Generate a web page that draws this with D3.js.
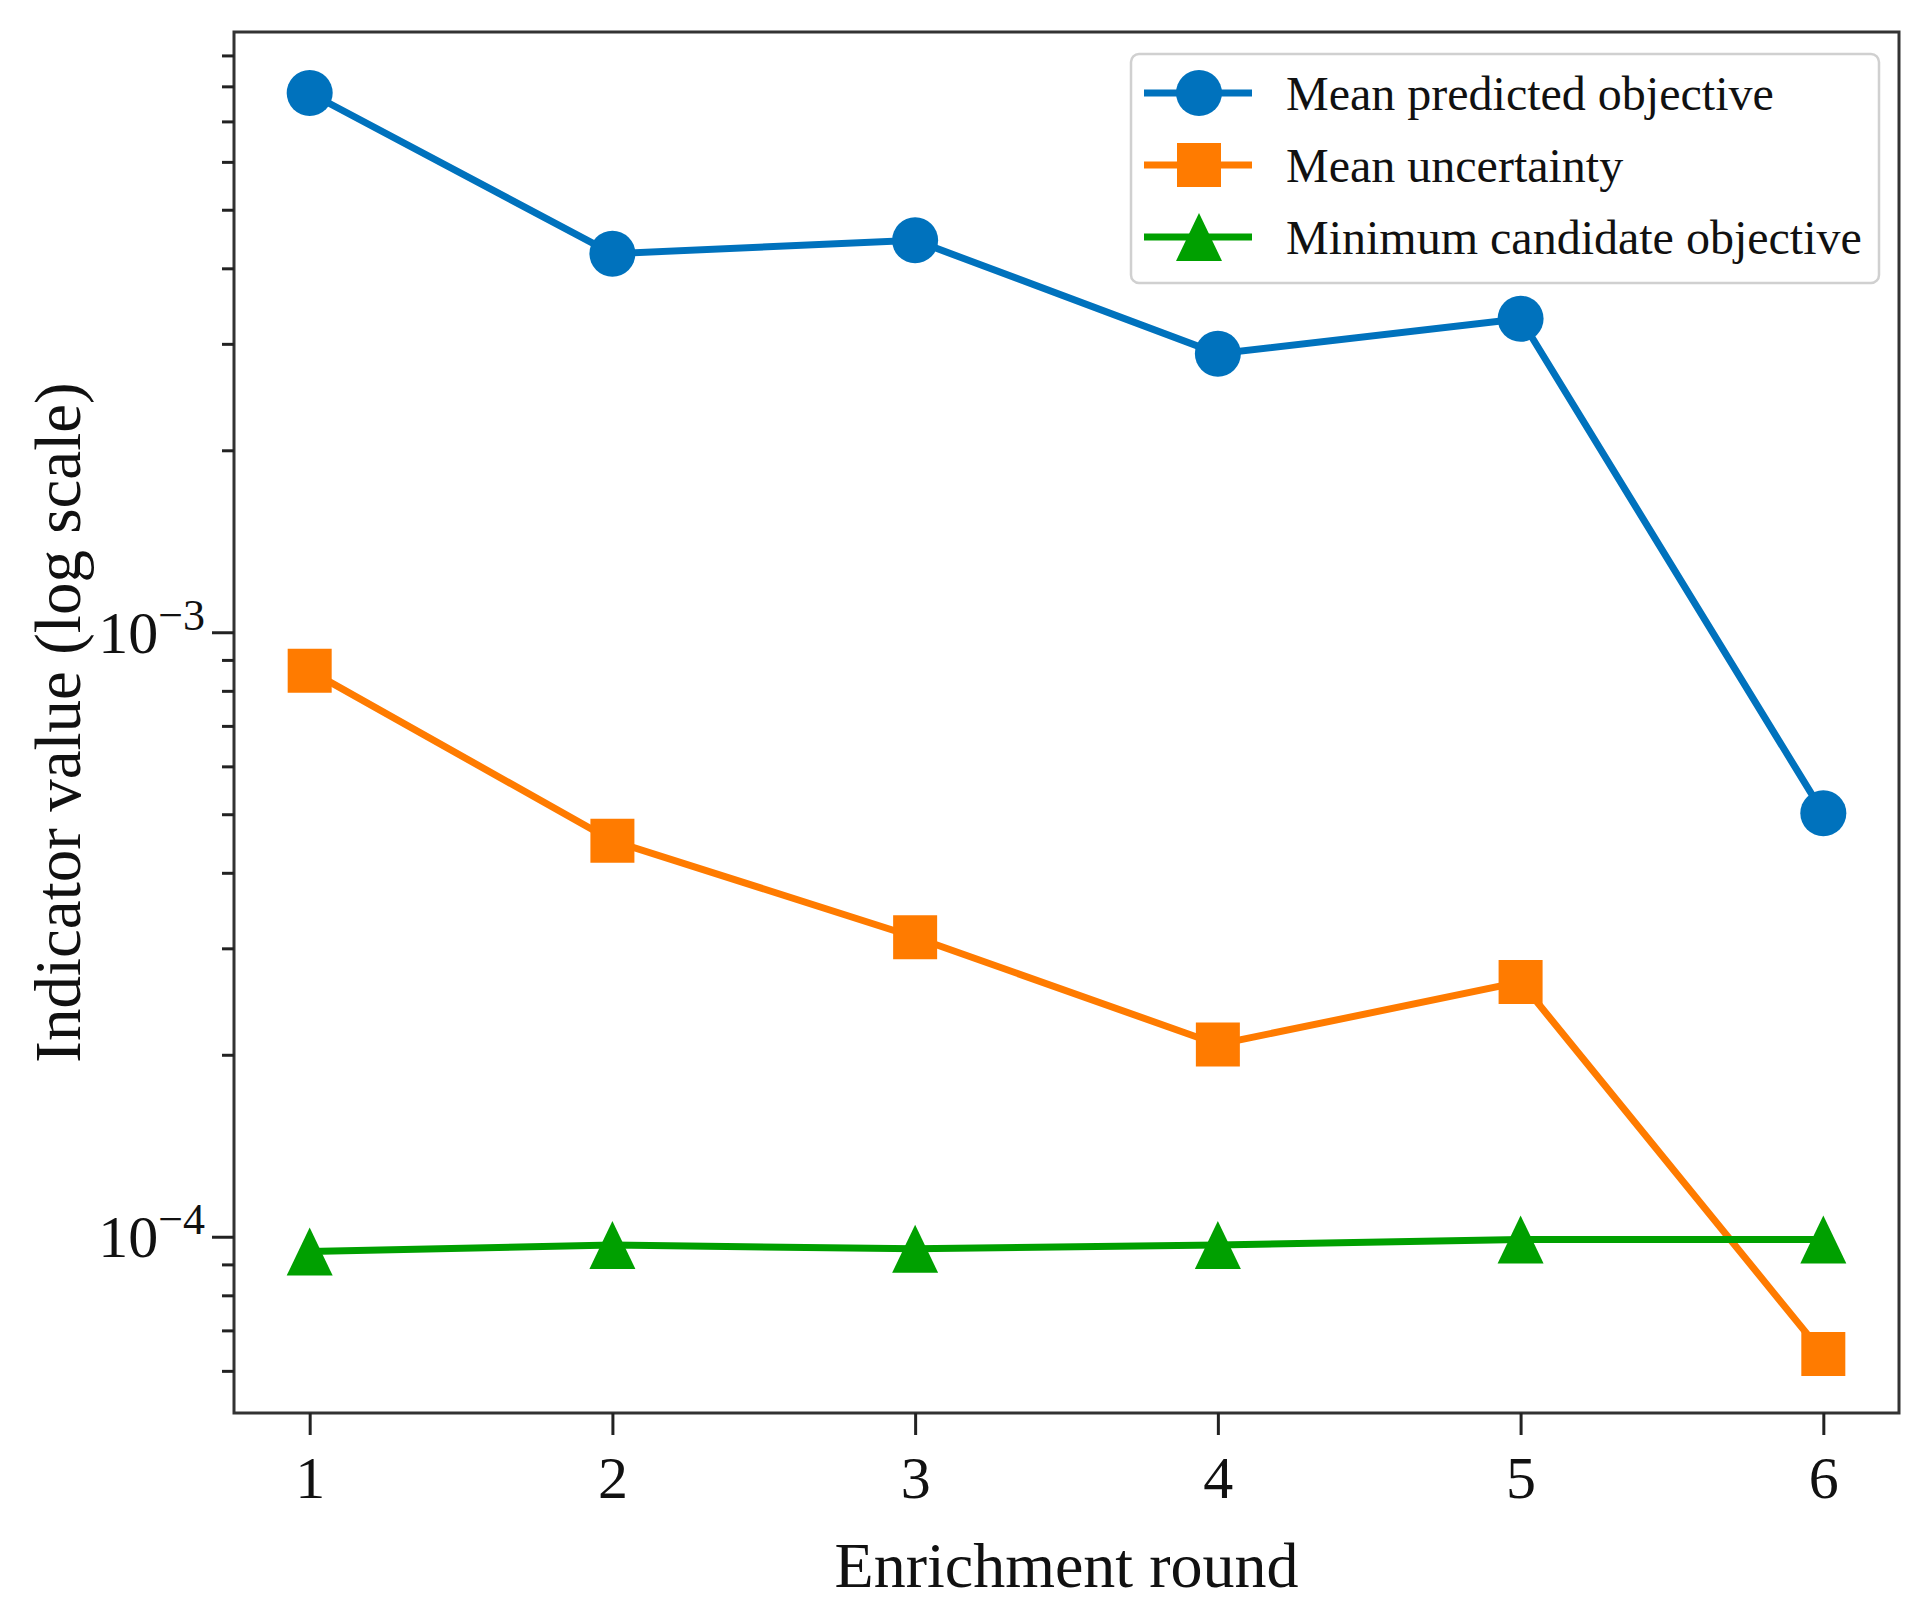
<!DOCTYPE html>
<html lang="en">
<head>
<meta charset="UTF-8">
<title>Enrichment indicators</title>
<style>
    body { margin: 0; padding: 0; background: #ffffff; }
    svg { display: block; }
    text { font-family: 'Liberation Serif', 'Times New Roman', serif; fill: #111; }
</style>
</head>
<body>
<div id="chart"></div>
<script src="https://d3js.org/d3.v7.min.js"></script>
<script>
    // data
    const rounds = [1, 2, 3, 4, 5, 6];
    const meanPredicted = [7.8e-3, 4.23e-3, 4.45e-3, 2.89e-3, 3.30e-3, 5.02e-4];
    const meanUncertainty = [8.64e-4, 4.52e-4, 3.13e-4, 2.08e-4, 2.64e-4, 6.4e-5];
    const minCandidate = [9.45e-5, 9.69e-5, 9.55e-5, 9.69e-5, 9.9e-5, 9.9e-5];
    const seriesNames = ['Mean predicted objective', 'Mean uncertainty', 'Minimum candidate objective'];
    const majorTicks = [1e-4, 1e-3];
    const majorExp = ['\u22124', '\u22123'];

    const width = 1924, height = 1608;
    const margin = { top: 32, right: 25, bottom: 195, left: 234 };
    const innerW = width - margin.left - margin.right;
    const innerH = height - margin.top - margin.bottom;

    const svg = d3.select('#chart').append('svg')
        .attr('width', width)
        .attr('height', height);

    const g = svg.append('g')
        .attr('transform', `translate(${margin.left},${margin.top})`);

    const x = d3.scaleLinear().domain([0.75, 6.25]).range([0, innerW]);
    const y = d3.scaleLog().domain([5.11e-5, 9.84e-3]).range([innerH, 0]);

    const series = [
        { name: seriesNames[0], values: meanPredicted, color: '#0072BD', shape: d3.symbolCircle },
        { name: seriesNames[1], values: meanUncertainty, color: '#FF7B00', shape: d3.symbolSquare },
        { name: seriesNames[2], values: minCandidate, color: '#00A000', shape: d3.symbolTriangle }
    ];

    // marker paths sized to match the figure (~45px across)
    function markerPath(shape) {
        if (shape === d3.symbolCircle) return d3.symbol(shape, Math.PI * 23 * 23)();
        if (shape === d3.symbolSquare) return d3.symbol(shape, 44 * 44)();
        // upright triangle centred on its box, like matplotlib '^'
        return 'M0,-24L23,24L-23,24Z';
    }

    const line = d3.line()
        .x((d, i) => x(rounds[i]))
        .y(d => y(d));

    series.forEach(s => {
        g.append('path')
            .datum(s.values)
            .attr('fill', 'none')
            .attr('stroke', s.color)
            .attr('stroke-width', 7)
            .attr('d', line);
    });

    series.forEach(s => {
        g.selectAll(null)
            .data(s.values)
            .enter().append('path')
            .attr('transform', (d, i) => `translate(${x(rounds[i])},${y(d)})`)
            .attr('d', markerPath(s.shape))
            .attr('fill', s.color);
    });

    // frame
    g.append('rect')
        .attr('width', innerW)
        .attr('height', innerH)
        .attr('fill', 'none')
        .attr('stroke', '#333')
        .attr('stroke-width', 3);

    // x axis
    const xAxis = g.append('g')
        .attr('transform', `translate(0,${innerH})`)
        .call(d3.axisBottom(x).tickValues(rounds).tickFormat(d3.format('d')).tickSize(22).tickPadding(20));
    xAxis.select('.domain').remove();
    xAxis.selectAll('line').attr('stroke', '#222').attr('stroke-width', 3);
    xAxis.selectAll('text')
        .style('font-family', "'Liberation Serif', serif")
        .style('font-size', '60px')
        .attr('fill', '#111');

    // y axis: minor ticks
    const minorTicks = y.ticks().filter(v => !majorTicks.includes(v));
    const yMinor = g.append('g')
        .call(d3.axisLeft(y).tickValues(minorTicks).tickFormat('').tickSize(12));
    yMinor.select('.domain').remove();
    yMinor.selectAll('line').attr('stroke', '#222').attr('stroke-width', 3);

    // y axis: major ticks with 10^n labels
    const yMajor = g.append('g')
        .call(d3.axisLeft(y).tickValues(majorTicks).tickFormat('').tickSize(22));
    yMajor.select('.domain').remove();
    yMajor.selectAll('line').attr('stroke', '#222').attr('stroke-width', 3);
    yMajor.selectAll('.tick').each(function (d, i) {
        const t = d3.select(this).append('text')
            .attr('x', -29)
            .attr('y', 20)
            .attr('text-anchor', 'end')
            .style('font-size', '60px')
            .attr('fill', '#111');
        t.append('tspan').text('10');
        t.append('tspan').attr('dy', -23).style('font-size', '44px').text(majorExp[i]);
    });

    // axis titles
    svg.append('text')
        .attr('x', margin.left + innerW / 2)
        .attr('y', 1587)
        .attr('text-anchor', 'middle')
        .style('font-size', '64px')
        .text('Enrichment round');

    svg.append('text')
        .attr('transform', `translate(80,${margin.top + innerH / 2}) rotate(-90)`)
        .attr('text-anchor', 'middle')
        .style('font-size', '65px')
        .text('Indicator value (log scale)');

    // legend
    const legend = svg.append('g').attr('transform', 'translate(1131,54)');
    legend.append('rect')
        .attr('width', 748)
        .attr('height', 229)
        .attr('rx', 8)
        .attr('fill', 'rgba(255,255,255,0.8)')
        .attr('stroke', '#d0d0d0')
        .attr('stroke-width', 2.5);

    series.forEach((s, i) => {
        const row = legend.append('g').attr('transform', `translate(0,${39 + i * 72})`);
        row.append('line')
            .attr('x1', 13).attr('x2', 121)
            .attr('stroke', s.color)
            .attr('stroke-width', 7);
        row.append('path')
            .attr('transform', 'translate(68,0)')
            .attr('d', markerPath(s.shape))
            .attr('fill', s.color);
        row.append('text')
            .attr('x', 155)
            .attr('y', 17)
            .style('font-size', '48px')
            .text(s.name);
    });
</script>
</body>
</html>
